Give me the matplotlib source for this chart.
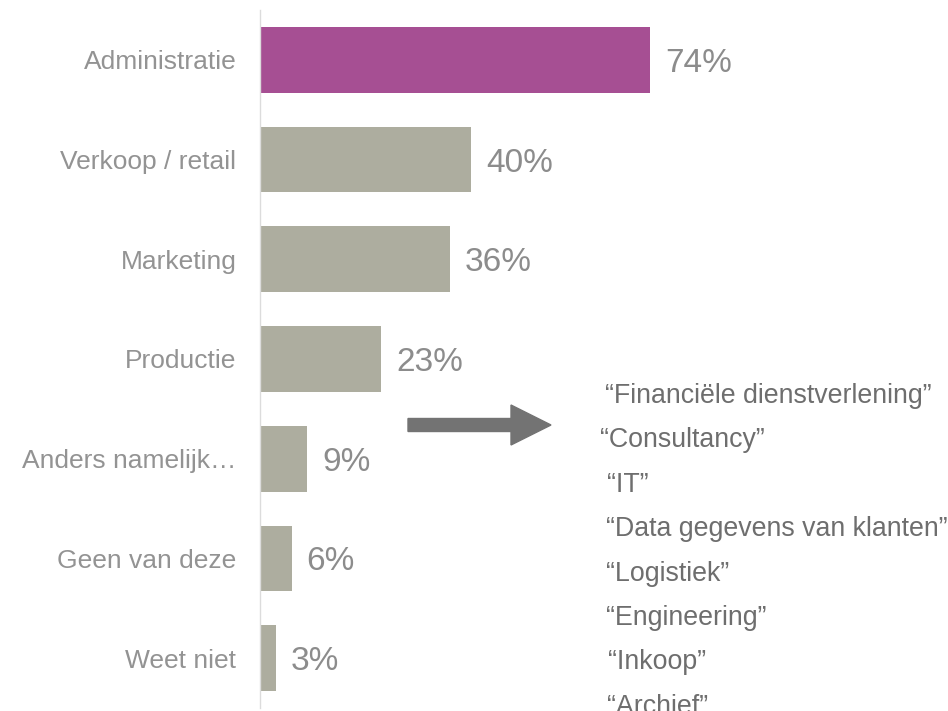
import matplotlib
matplotlib.use('Agg')
import matplotlib.pyplot as plt
from matplotlib.patches import FancyArrow

plt.rcParams['font.family'] = ['Liberation Sans', 'DejaVu Sans']

# Data
categorieen = ['Administratie', 'Verkoop / retail', 'Marketing', 'Productie',
               'Anders namelijk…', 'Geen van deze', 'Weet niet']
percentages = [74, 40, 36, 23, 9, 6, 3]
anders_antwoorden = ['“Financiële dienstverlening”', '“Consultancy”', '“IT”',
                     '“Data gegevens van klanten”', '“Logistiek”', '“Engineering”',
                     '“Inkoop”', '“Archief”']
lijst_x = [605, 600, 607, 606, 606, 606, 608, 607]

W, H = 948, 711
fig = plt.figure(figsize=(W / 100, H / 100), dpi=100)
ax = fig.add_axes([260 / W, 3 / H, 688 / W, 698 / H])

kleuren = ['#A64F93'] + ['#ADAD9F'] * (len(categorieen) - 1)
posities = range(len(categorieen))
bars = ax.barh(posities, percentages, height=0.66, color=kleuren)

ax.set_ylim(len(categorieen) - 0.5, -0.5)
ax.set_xlim(0, 688 / 5.27)
ax.set_yticks(list(posities))
ax.set_yticklabels(categorieen, fontsize=19, color='#939393', va='center_baseline')
ax.tick_params(axis='y', length=0, pad=17)
ax.set_xticks([])

for s in ['top', 'right', 'bottom']:
    ax.spines[s].set_visible(False)
ax.spines['left'].set_color('#DCDCDC')
ax.spines['left'].set_linewidth(1)

# Waardelabels
for p, v in zip(posities, percentages):
    ax.annotate(f'{v}%', xy=(v, p), xytext=(15, 0), textcoords='offset pixels',
                va='center_baseline', ha='left', fontsize=24, color='#8C8C8C')

# Pijl naar de lijst met antwoorden
def px(x, y):
    return x / W, 1 - y / H

x0, y0 = px(408, 425)
pijl = FancyArrow(x0, y0, 143 / W, 0, width=13 / H, head_width=40 / H,
                  head_length=40 / W, length_includes_head=True,
                  color='#737373', transform=fig.transFigure)
fig.patches.append(pijl)

# Lijst "Anders namelijk"
for i, (tekst, lx) in enumerate(zip(anders_antwoorden, lijst_x)):
    fx, fy = px(lx, 403 + 44.4 * i)
    fig.text(fx, fy, tekst, fontsize=19.3, color='#6E6E6E', ha='left', va='baseline')

fig.savefig('out.png', dpi=100)
